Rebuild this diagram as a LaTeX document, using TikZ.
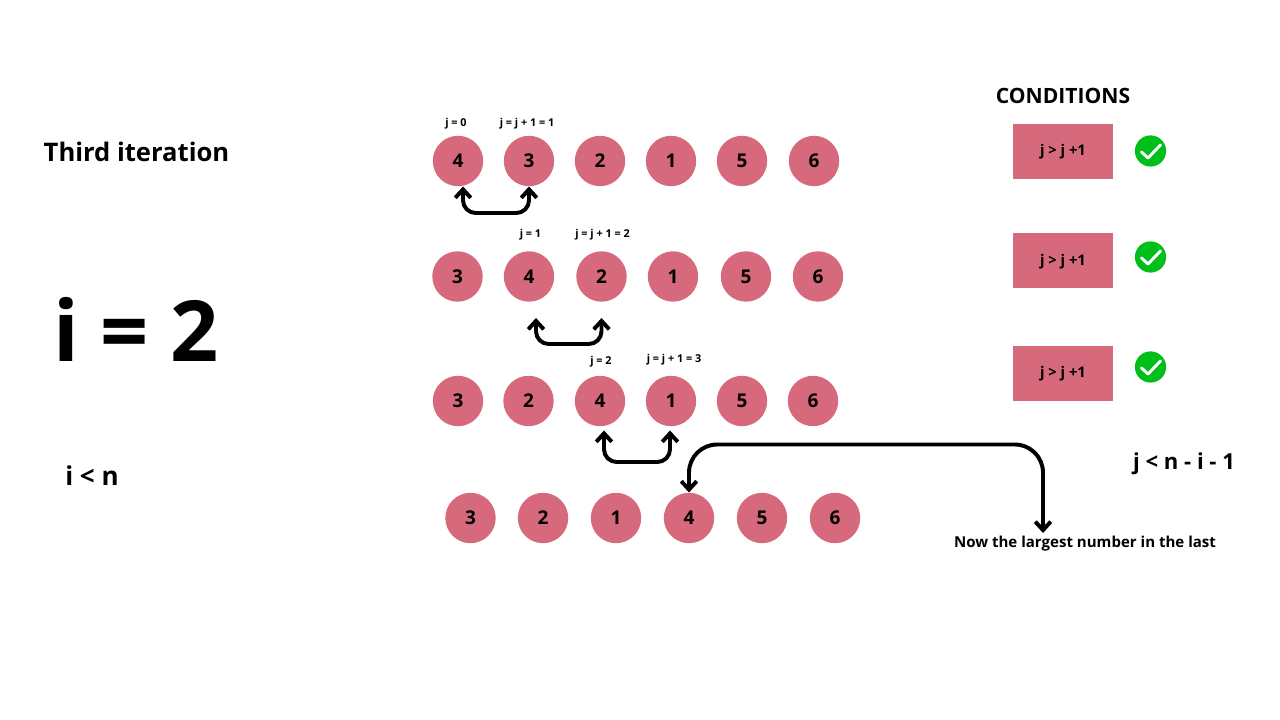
\documentclass[tikz,border=0pt]{standalone}
\usepackage{fontspec}
\setmainfont{Open Sans}
\usetikzlibrary{arrows.meta,calc}
\definecolor{rose}{HTML}{D7697D}
\definecolor{okgreen}{HTML}{00BF1B}
\tikzset{
  ball/.style={circle,fill=rose,minimum size=1.26cm,inner sep=0pt,text depth=-1.2pt,font=\fontsize{13.5}{15}\selectfont\bfseries},
  condbox/.style={fill=rose,minimum width=2.5cm,minimum height=1.375cm,inner sep=0pt},
  small/.style={inner sep=0pt,font=\fontsize{7.7}{9}\selectfont\bfseries},
  swap/.style={line width=2.8pt,rounded corners=9pt,{Straight Barb[length=6pt,width=11pt,line width=2.8pt]}-{Straight Barb[length=6pt,width=11pt,line width=2.8pt]}},
  okdisc/.style={circle,fill=okgreen,minimum size=0.78cm,inner sep=0pt},
  okmark/.style={draw=white,line width=2.1pt,line cap=round,line join=round}
}
\begin{document}
\begin{tikzpicture}[x=0.025cm,y=-0.025cm]
  \useasboundingbox (0,0) rectangle (1280,720);

  % left column
  \node[inner sep=0pt,font=\fontsize{18.2}{22}\selectfont\bfseries] (title) at (136.5,152) {Third iteration};
  \node[inner sep=0pt,font=\fontsize{60}{68}\selectfont\bfseries] (ival) at (136,329.5) {i = 2};
  \node[inner sep=0pt,font=\fontsize{18.5}{22}\selectfont\bfseries] (icond) at (92,476) {i < n};

  % rows of balls
  \foreach \n/\x/\v in {1/458/4,2/529/3,3/600/2,4/671/1,5/742/5,6/814/6}
    \node[ball] (a\n) at (\x,161) {\v};
  \foreach \n/\x/\v in {1/457.5/3,2/529/4,3/601.5/2,4/673/1,5/746/5,6/818/6}
    \node[ball] (b\n) at (\x,276.5) {\v};
  \foreach \n/\x/\v in {1/458/3,2/528.5/2,3/600/4,4/671/1,5/742/5,6/813/6}
    \node[ball] (c\n) at (\x,401) {\v};
  \foreach \n/\x/\v in {1/470.5/3,2/543/2,3/616/1,4/689/4,5/762/5,6/835/6}
    \node[ball] (d\n) at (\x,518) {\v};

  % j labels
  \node[small] (ja) at (456,124) {j = 0};
  \node[small] (jb) at (527,124) {j = j + 1 = 1};
  \node[small] (jc) at (530.5,235) {j = 1};
  \node[small] (jd) at (602.5,235) {j = j + 1 = 2};
  \node[small] (je) at (601,362) {j = 2};
  \node[small] (jf) at (674,360) {j = j + 1 = 3};

  % swaps
  \draw[swap] ($(a1.south)+(5,0)$) |- (500,213) -| (a2.south);
  \draw[swap] ($(b2.south)+(7,16)$) |- (570,344) -| ($(b3.south)+(0,16)$);
  \draw[swap] ($(c3.south)+(4,4)$) |- (640,462) -| ($(c4.south)+(-1,4)$);

  % last one
  \node[inner sep=0pt,font=\fontsize{10.7}{13}\selectfont\bfseries] (note) at (1085,544) {Now the largest number in the last};
  \coordinate (noteend) at (1043,533);
  \draw[swap,rounded corners=20pt] (d4.north) |- (870,444.5) -| (noteend);

  % conditions
  \node[inner sep=0pt,font=\fontsize{15}{18}\selectfont\bfseries] (condhead) at (1063,95.5) {CONDITIONS};
  \foreach \n/\y/\t/\cy in {1/151.5/151.5/151,2/260.5/261.5/257,3/373.5/373.5/367}{
    \node[condbox] (box\n) at (1063,\y) {};
    \node[inner sep=0pt,font=\fontsize{10.5}{12}\selectfont\bfseries] (txt\n) at (1063,\t) {j > j +1};
    \node[okdisc] (ok\n) at (1150.5,\cy) {};
    \draw[okmark] ($(ok\n)+(-9,1)$) -- ($(ok\n)+(-2.5,7)$) -- ($(ok\n)+(10,-6)$);
  }
  \node[inner sep=0pt,font=\fontsize{15.7}{19}\selectfont\bfseries] (jcond) at (1184,464) {j < n - i - 1};
\end{tikzpicture}
\end{document}
